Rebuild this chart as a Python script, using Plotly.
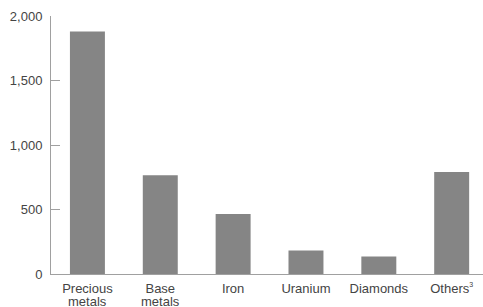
import plotly.graph_objects as go

categories = ["Precious", "Base", "Iron", "Uranium", "Diamonds",
              "Others<sup><span style='font-size:7px'>3</span></sup>"]
second_lines = ["metals", "metals", "", "", "", ""]
values = [1880, 765, 465, 182, 135, 790]
y_ticks = [0, 500, 1000, 1500, 2000]
y_tick_labels = ["0", "500", "1,000", "1,500", "2,000"]

fig = go.Figure(go.Bar(
    x=list(range(len(categories))),
    y=values,
    marker=dict(color="#858585", line=dict(width=0)),
    width=0.48,
    hoverinfo="skip",
))

for i, t in enumerate(second_lines):
    if t:
        fig.add_annotation(x=i, xref="x", y=-0.104, yref="paper", text=t,
                           showarrow=False, yanchor="middle", xanchor="center",
                           height=12, borderpad=0,
                           font=dict(size=13, color="#444444"))

fig.update_layout(
    width=483, height=307,
    margin=dict(l=51, r=0, t=16, b=33),
    paper_bgcolor="white", plot_bgcolor="white",
    font=dict(family="Liberation Sans, Arial, sans-serif", size=13, color="#444444"),
    showlegend=False,
    xaxis=dict(
        tickmode="array", tickvals=list(range(len(categories))), ticktext=categories,
        range=[-0.5, 5.43], showline=True, linecolor="#a0a0a0", linewidth=1,
        showgrid=False, zeroline=False, ticks="", fixedrange=True,
        automargin=False, ticklabelstandoff=2,
    ),
    yaxis=dict(
        tickmode="array", tickvals=y_ticks, ticktext=y_tick_labels,
        range=[0, 2000], showline=True, linecolor="#a0a0a0", linewidth=1,
        showgrid=False, zeroline=False, ticks="inside", ticklen=9, tickcolor="#a0a0a0",
        automargin=False, ticklabelstandoff=5, fixedrange=True,
    ),
)

fig.write_html("out.html", config={"displayModeBar": False, "staticPlot": True},
               post_script="document.body.style.margin='0';document.body.style.overflow='hidden';")
